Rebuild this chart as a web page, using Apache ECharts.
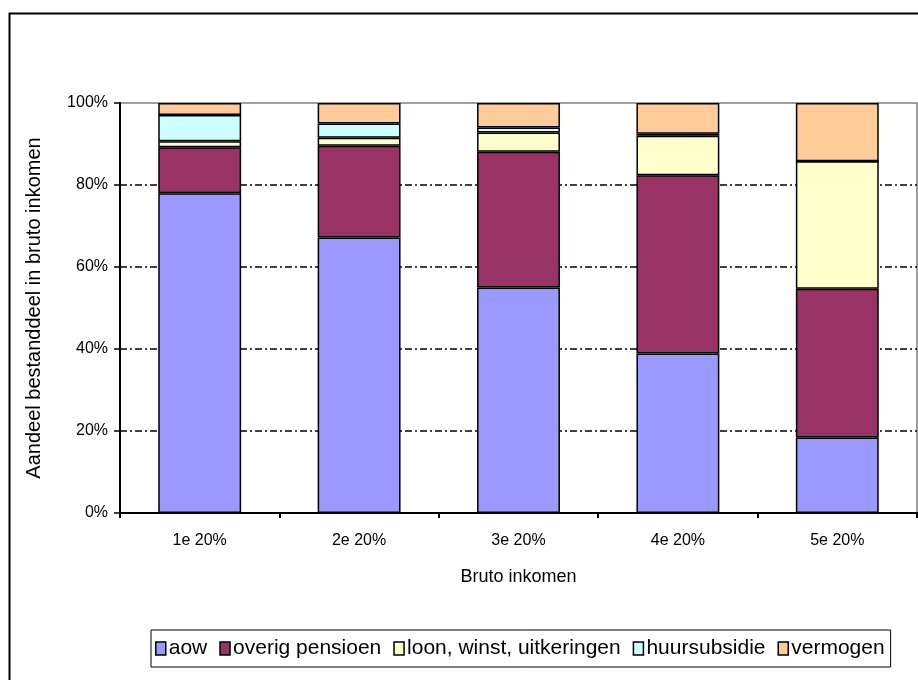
<!DOCTYPE html>
<html>
<head>
<meta charset="utf-8">
<script src="https://cdn.jsdelivr.net/npm/echarts@6/dist/echarts.min.js"></script>
<style>
  html, body { margin: 0; padding: 0; background: #fff; }
  #chart { width: 918px; height: 680px; }
</style>
</head>
<body>
<div id="chart"></div>
<script>
// Income quintiles on the x axis
const categories = ['1e 20%', '2e 20%', '3e 20%', '4e 20%', '5e 20%'];

// Share of each component in gross income (%)
const aow       = [78.0, 67.2, 55.0, 38.9, 18.4];
const overig    = [11.2, 22.4, 33.1, 43.5, 36.3];
const loon      = [1.5, 1.9, 4.7, 9.6, 31.1];
const huur      = [6.35, 3.5, 1.2, 0.5, 0.0];
const vermogen  = [2.95, 5.0, 6.0, 7.5, 14.2];

const seriesNames = ['aow', 'overig pensioen', 'loon, winst, uitkeringen', 'huursubsidie', 'vermogen'];
const seriesData = [aow, overig, loon, huur, vermogen];
const seriesColors = ['#9999FF', '#993366', '#FFFFCC', '#CCFFFF', '#FFCC99'];

const yTicks = [0, 20, 40, 60, 80, 100];

const font = '"Liberation Sans", Arial, sans-serif';

const chart = echarts.init(document.getElementById('chart'), null, { renderer: 'canvas' });

chart.setOption({
  animation: false,
  backgroundColor: '#fff',
  textStyle: { fontFamily: font, color: '#000' },
  graphic: [{
    type: 'rect',
    shape: { x: 9.5, y: 13.5, width: 940, height: 700 },
    style: { fill: 'none', stroke: '#000', lineWidth: 2 },
    silent: true,
    z: -10
  }],
  grid: {
    left: 120, right: 1, top: 103, bottom: 167,
    show: true,
    borderColor: '#808080',
    borderWidth: 1.5,
    backgroundColor: 'transparent'
  },
  legend: {
    data: seriesNames,
    left: 151,
    top: 630,
    padding: [8, 6, 8, 4],
    itemGap: 12,
    itemWidth: 10,
    itemHeight: 13,
    borderColor: '#000',
    borderWidth: 1,
    icon: 'rect',
    itemStyle: { borderColor: '#000', borderWidth: 1.5 },
    textStyle: { fontFamily: font, fontSize: 21, color: '#000', padding: [0, 0, 0, -2] }
  },
  xAxis: {
    type: 'category',
    data: categories,
    name: 'Bruto inkomen',
    nameLocation: 'middle',
    nameGap: 55,
    nameTextStyle: { fontFamily: font, fontSize: 18, color: '#000' },
    axisLine: { lineStyle: { color: '#000', width: 2 } },
    axisTick: { show: true, length: 5, lineStyle: { color: '#000', width: 2 } },
    axisLabel: { fontFamily: font, fontSize: 16, color: '#000', margin: 20 }
  },
  yAxis: {
    type: 'value',
    min: yTicks[0],
    max: yTicks[yTicks.length - 1],
    interval: 20,
    name: 'Aandeel bestanddeel in bruto inkomen',
    nameLocation: 'middle',
    nameGap: 76,
    nameTextStyle: { fontFamily: font, fontSize: 20, color: '#000' },
    axisLine: { show: true, lineStyle: { color: '#000', width: 2 } },
    axisTick: { show: true, length: 6, lineStyle: { color: '#000', width: 1.5 } },
    axisLabel: { fontFamily: font, fontSize: 16, color: '#000', margin: 12, formatter: '{value}%' },
    splitLine: {
      show: true,
      showMinLine: false,
      showMaxLine: false,
      lineStyle: { color: '#000', width: 1.5, type: [7, 3, 2, 3] }
    }
  },
  series: seriesData.map((d, i) => ({
    name: seriesNames[i],
    type: 'bar',
    stack: 'total',
    data: d,
    barCategoryGap: '48%',
    itemStyle: { color: seriesColors[i], borderColor: '#000', borderWidth: 1.5 }
  }))
});
</script>
</body>
</html>
